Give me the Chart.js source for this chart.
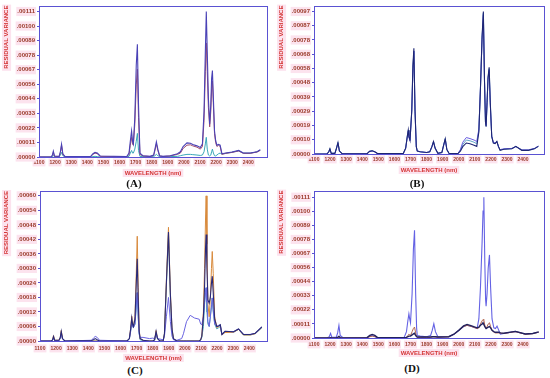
<!DOCTYPE html>
<html><head><meta charset="utf-8">
<script src="https://cdn.jsdelivr.net/npm/chart.js@4/dist/chart.umd.min.js"></script>
<style>
html,body{margin:0;padding:0;background:#fff;}
body{width:550px;height:378px;position:relative;overflow:hidden;}
canvas{position:absolute;}
.lab{position:absolute;font:bold 11px "Liberation Serif",serif;color:#111;transform:translateX(-50%);line-height:12px;}
</style></head><body>
<canvas id="cA" width="275" height="177" style="left:0;top:0"></canvas>
<canvas id="cB" width="275" height="174" style="left:275px;top:0"></canvas>
<canvas id="cC" width="275" height="177" style="left:0;top:185px"></canvas>
<canvas id="cD" width="275" height="172" style="left:275px;top:185px"></canvas>
<div class="lab" style="left:134px;top:177px">(A)</div>
<div class="lab" style="left:417px;top:177px">(B)</div>
<div class="lab" style="left:135px;top:364px">(C)</div>
<div class="lab" style="left:412px;top:362px">(D)</div>
<script>
// ---- shared axis text ----
const xTickValues = [1100,1200,1300,1400,1500,1600,1700,1800,1900,2000,2100,2200,2300,2400];
const xTickLabels = ['1100','1200','1300','1400','1500','1600','1700','1800','1900','2000','2100','2200','2300','2400'];
const xTitle = 'WAVELENGTH (nm)';
const yTitle = 'RESIDUAL VARIANCE';

// ---- panel A ----
const yTicksA = [0,11.1e-5,22.2e-5,33.3e-5,44.4e-5,55.5e-5,66.6e-5,77.7e-5,88.8e-5,99.9e-5,111e-5];
const yLabelsA = ['.00000','.00011','.00022','.00033','.00044','.00056','.00067','.00078','.00089','.00100','.00111'];
const wavelengthA = [1100,1175,1183,1189,1196,1225,1233,1240,1248,1262,1420,1435,1448,1462,1480,1645,1659,1667,1675,1681,1686,1695,1704,1711,1718,1727,1745,1790,1812,1820,1829,1838,1849,1870,1915,1960,1978,1995,2019,2040,2055,2081,2102,2115,2125,2133,2139,2145,2152,2160,2167,2172,2177,2183,2190,2197,2205,2215,2225,2236,2260,2299,2340,2369,2412,2454,2474];
const seriesA1 = [0,0,1.5e-5,4.5e-5,0.8e-5,0.5e-5,4e-5,9.8e-5,2.5e-5,0.3e-5,0.3e-5,2.5e-5,3.5e-5,3e-5,0.8e-5,0.3e-5,3e-5,12e-5,19.9e-5,12e-5,10e-5,30e-5,70e-5,86e-5,40e-5,3e-5,1e-5,0.5e-5,1.5e-5,6e-5,11.6e-5,6e-5,1e-5,0.5e-5,1e-5,2.5e-5,4e-5,8e-5,10.8e-5,10.5e-5,9.5e-5,8.5e-5,7.3e-5,10e-5,35e-5,80e-5,111e-5,80e-5,45e-5,25e-5,40e-5,60e-5,66e-5,45e-5,20e-5,12.6e-5,9e-5,9.6e-5,9e-5,2.5e-5,3e-5,3.8e-5,5e-5,3e-5,3e-5,4e-5,5.5e-5];
const seriesA2 = [0,0,1e-5,3.5e-5,0.5e-5,0.4e-5,3.5e-5,9e-5,2e-5,0.2e-5,0.2e-5,2e-5,3e-5,2.5e-5,0.5e-5,0.2e-5,2e-5,9e-5,15e-5,10e-5,9e-5,25e-5,55e-5,67e-5,30e-5,2e-5,0.8e-5,0.4e-5,1.2e-5,5e-5,10e-5,5e-5,0.8e-5,0.4e-5,0.8e-5,2e-5,3e-5,6.5e-5,9e-5,9.3e-5,8.5e-5,7.5e-5,6e-5,8e-5,28e-5,65e-5,87e-5,65e-5,38e-5,23e-5,35e-5,52e-5,58e-5,40e-5,18e-5,11e-5,8e-5,9e-5,8e-5,2e-5,2.8e-5,3.5e-5,4.6e-5,2.8e-5,2.8e-5,3.8e-5,5e-5];
const seriesA3 = [0,0,0.3e-5,1e-5,0.2e-5,0.2e-5,1.5e-5,3.5e-5,1e-5,0,0,0.3e-5,0.5e-5,0.3e-5,0,0,0.5e-5,3e-5,5e-5,3e-5,3e-5,6e-5,12e-5,18e-5,5e-5,0.5e-5,0.3e-5,0.2e-5,0.3e-5,1e-5,2e-5,1e-5,0.3e-5,0.2e-5,0.3e-5,0.5e-5,1e-5,1.5e-5,2e-5,2e-5,1.8e-5,1.5e-5,1.2e-5,1.5e-5,4e-5,10e-5,15e-5,6e-5,1.5e-5,0.8e-5,1.5e-5,4e-5,6e-5,3e-5,1e-5,0.8e-5,1.5e-5,2.5e-5,3e-5,2.2e-5,2.8e-5,3.6e-5,4.8e-5,2.9e-5,2.9e-5,3.9e-5,5.3e-5];

// ---- panel B ----
const yTicksB = [0,9.7e-5,19.4e-5,29.1e-5,38.8e-5,48.5e-5,58.2e-5,67.9e-5,77.6e-5,87.3e-5,97e-5];
const yLabelsB = ['.00000','.00010','.00019','.00029','.00039','.00048','.00058','.00068','.00078','.00087','.00097'];
const wavelengthB = [1100,1180,1192,1199,1207,1230,1240,1249,1258,1275,1430,1445,1462,1478,1495,1655,1670,1680,1686,1690,1697,1708,1715,1721,1728,1736,1742,1760,1800,1820,1833,1843,1853,1870,1895,1906,1916,1926,1940,1995,2010,2025,2047,2070,2095,2112,2125,2135,2145,2153,2160,2166,2170,2176,2182,2189,2196,2205,2215,2226,2237,2247,2257,2280,2330,2355,2392,2433,2470,2495];
const seriesB1 = [0,0,1.5e-5,3.6e-5,0.4e-5,0.4e-5,4e-5,7.8e-5,2e-5,0.2e-5,0.2e-5,1.8e-5,2.2e-5,1.5e-5,0.3e-5,0.3e-5,4e-5,12e-5,16.3e-5,12e-5,9.2e-5,30e-5,60e-5,72e-5,30e-5,5e-5,2e-5,1.5e-5,1e-5,1.5e-5,5e-5,8.5e-5,4e-5,0.5e-5,1e-5,6e-5,10.3e-5,3e-5,0.3e-5,0.3e-5,2e-5,5e-5,7.5e-5,7e-5,6e-5,5.2e-5,15e-5,45e-5,80e-5,97e-5,50e-5,22e-5,18.6e-5,35e-5,52e-5,59e-5,35e-5,12e-5,7.4e-5,7e-5,8.5e-5,5e-5,2.5e-5,3.2e-5,3.6e-5,5.2e-5,2.5e-5,2.5e-5,3.5e-5,5.2e-5];
const seriesB2 = [0,0,1.4e-5,3.4e-5,0.4e-5,0.4e-5,3.8e-5,7.5e-5,2e-5,0.2e-5,0.2e-5,1.6e-5,2e-5,1.4e-5,0.3e-5,0.3e-5,3.8e-5,11.5e-5,15.8e-5,11.5e-5,9e-5,29e-5,58e-5,70e-5,29e-5,5e-5,2e-5,1.5e-5,1e-5,1.5e-5,4.8e-5,8.2e-5,3.8e-5,0.5e-5,1e-5,5.8e-5,10e-5,3e-5,0.3e-5,0.3e-5,3e-5,8e-5,11.2e-5,10.5e-5,9.5e-5,8.5e-5,17e-5,45e-5,78e-5,95e-5,50e-5,23e-5,19.5e-5,35e-5,51e-5,57e-5,34e-5,12e-5,8e-5,7.5e-5,8.5e-5,5e-5,3e-5,3.5e-5,3.8e-5,5e-5,2.8e-5,2.8e-5,3.8e-5,5.4e-5];
const seriesB3 = [0,0,1.6e-5,3.8e-5,0.5e-5,0.5e-5,4.2e-5,8e-5,2.2e-5,0.2e-5,0.2e-5,1.8e-5,2.3e-5,1.5e-5,0.3e-5,0.3e-5,4e-5,12e-5,16e-5,12e-5,9.5e-5,30e-5,59e-5,70e-5,30e-5,5e-5,2e-5,1.5e-5,1e-5,1.5e-5,5e-5,8.6e-5,4e-5,0.5e-5,1e-5,6e-5,10.5e-5,3e-5,0.3e-5,0.3e-5,2.5e-5,6.5e-5,9.5e-5,9e-5,8e-5,7e-5,16e-5,45e-5,79e-5,96e-5,50e-5,22e-5,19e-5,35e-5,52e-5,58e-5,35e-5,12e-5,7.6e-5,7.2e-5,8.7e-5,5e-5,2.6e-5,3.3e-5,3.6e-5,5.1e-5,2.6e-5,2.6e-5,3.6e-5,5.3e-5];

// ---- panel C ----
const yTicksC = [0,6e-5,12e-5,18e-5,24e-5,30e-5,36e-5,42e-5,48e-5,54e-5,60e-5];
const yLabelsC = ['.00000','.00006','.00012','.00018','.00024','.00030','.00036','.00042','.00048','.00054','.00060'];
const wavelengthC = [1100,1170,1178,1184,1191,1218,1226,1232,1240,1255,1420,1432,1443,1455,1470,1640,1655,1663,1670,1675,1680,1690,1698,1704,1710,1716,1722,1740,1780,1800,1812,1821,1830,1845,1865,1873,1885,1898,1910,1920,1929,1950,1980,1991,2010,2033,2060,2089,2098,2105,2115,2122,2128,2132,2137,2143,2151,2158,2165,2170,2176,2185,2198,2210,2220,2230,2249,2302,2333,2364,2406,2437,2478];
const seriesC1 = [0,0,0.5e-5,1.9e-5,0.3e-5,0.3e-5,1.5e-5,4e-5,1e-5,0,0.2e-5,0.5e-5,1e-5,0.5e-5,0,0,1e-5,5e-5,9.5e-5,7e-5,6e-5,9e-5,24e-5,34e-5,18e-5,4e-5,1e-5,0.3e-5,0,0,0.5e-5,4e-5,1e-5,0,0,3e-5,24e-5,45e-5,19e-5,5e-5,1e-5,0,0,0,0,0,0,0,0.5e-5,2e-5,10e-5,22e-5,38e-5,44e-5,30e-5,17e-5,15.7e-5,18e-5,24e-5,26.8e-5,20e-5,9e-5,6e-5,6.2e-5,6.7e-5,2.7e-5,4e-5,3.8e-5,5e-5,2.7e-5,2.7e-5,3.2e-5,5.8e-5];
const seriesC2 = [0,0,0.3e-5,1.2e-5,0.2e-5,0.2e-5,1e-5,3e-5,0.8e-5,0,0.3e-5,1.2e-5,1.9e-5,1.5e-5,0.3e-5,0,0.8e-5,4e-5,8e-5,6e-5,5.5e-5,7e-5,15e-5,20e-5,10e-5,3e-5,1.5e-5,1.5e-5,1e-5,1.2e-5,1e-5,3e-5,1e-5,0.8e-5,0.5e-5,2e-5,10e-5,18e-5,8e-5,2e-5,0.5e-5,0.3e-5,1e-5,3e-5,8e-5,10.6e-5,9.5e-5,9e-5,7e-5,6.7e-5,10e-5,16e-5,20e-5,22e-5,16e-5,8e-5,6e-5,10e-5,14e-5,17.8e-5,13e-5,7e-5,6e-5,6.5e-5,6.7e-5,2.7e-5,4e-5,3.8e-5,5e-5,2.7e-5,2.7e-5,3.2e-5,5.8e-5];
const seriesC3 = [0,0,0.5e-5,2.2e-5,0.3e-5,0.3e-5,1.5e-5,4.3e-5,1e-5,0,0,0,0,0,0,0,1e-5,5e-5,10.2e-5,7e-5,6.1e-5,10e-5,28e-5,43.3e-5,22e-5,5e-5,1e-5,0.3e-5,0,0,0.5e-5,4.3e-5,1e-5,0,0,3e-5,25e-5,47e-5,20e-5,5e-5,1e-5,0,0,0,0,0,0,0,0.5e-5,2e-5,12e-5,30e-5,50e-5,60e-5,40e-5,15e-5,10e-5,18e-5,30e-5,37e-5,28e-5,10e-5,5.5e-5,6e-5,6.5e-5,2.5e-5,3.5e-5,3.6e-5,4.8e-5,2.5e-5,2.5e-5,3e-5,5.6e-5];
const seriesC4 = [0,0,0.3e-5,1.5e-5,0.2e-5,0.2e-5,1.2e-5,3.5e-5,0.8e-5,0,0,0,0,0,0,0,0.8e-5,4e-5,8e-5,6e-5,5.5e-5,7e-5,14e-5,20e-5,10e-5,3e-5,0.5e-5,0.2e-5,0,0,0.4e-5,3.5e-5,0.8e-5,0,0,3e-5,23e-5,44e-5,18e-5,4e-5,0.8e-5,0,0,0,0,0,0,0,0.4e-5,1.5e-5,6e-5,15e-5,20e-5,22e-5,12e-5,7e-5,6e-5,10e-5,15e-5,17.8e-5,12e-5,7e-5,5e-5,5.5e-5,6e-5,2.5e-5,3.8e-5,3.6e-5,4.8e-5,2.5e-5,2.5e-5,3e-5,5.5e-5];

// ---- panel D ----
const yTicksD = [0,11.1e-5,22.2e-5,33.3e-5,44.4e-5,55.5e-5,66.6e-5,77.7e-5,88.8e-5,99.9e-5,111e-5];
const yLabelsD = ['.00000','.00011','.00022','.00033','.00044','.00056','.00067','.00078','.00089','.00100','.00111'];
const wavelengthD = [1100,1180,1195,1203,1211,1238,1247,1255,1263,1280,1430,1447,1462,1478,1495,1660,1675,1684,1690,1695,1700,1710,1718,1725,1732,1738,1742,1760,1800,1825,1835,1845,1855,1870,1938,1970,2000,2030,2052,2080,2114,2125,2135,2145,2151,2156,2162,2167,2170,2176,2183,2191,2198,2207,2218,2228,2238,2249,2259,2280,2352,2414,2460,2497];
const seriesD1 = [0,0,1e-5,3.6e-5,0.5e-5,0.5e-5,4e-5,9.9e-5,2e-5,0.2e-5,0.3e-5,1.5e-5,2e-5,1.2e-5,0.3e-5,0.3e-5,5e-5,14e-5,19e-5,15e-5,12e-5,35e-5,70e-5,85e-5,35e-5,8e-5,2e-5,1.5e-5,1e-5,2e-5,6e-5,11.2e-5,5e-5,1e-5,1e-5,3e-5,6e-5,9e-5,10e-5,9e-5,7.5e-5,15e-5,40e-5,75e-5,100e-5,111e-5,60e-5,30e-5,25e-5,35e-5,55e-5,65.5e-5,40e-5,15e-5,8e-5,7.5e-5,9.4e-5,6e-5,3e-5,3.5e-5,5.2e-5,3e-5,3.5e-5,4.5e-5];
const seriesD2 = [0,0,0,0.3e-5,0,0,0.5e-5,1.3e-5,0.3e-5,0,0.3e-5,2e-5,2.8e-5,2e-5,0.3e-5,0.2e-5,0.5e-5,1e-5,1.5e-5,1.5e-5,1.5e-5,2.5e-5,3.2e-5,3.7e-5,2e-5,1e-5,0.8e-5,0.8e-5,0.8e-5,0.8e-5,1e-5,1e-5,1e-5,0.8e-5,1e-5,3e-5,6e-5,9.5e-5,10.7e-5,9.5e-5,8e-5,8.5e-5,10e-5,11e-5,12e-5,12e-5,9e-5,8e-5,7.5e-5,8e-5,8.5e-5,9e-5,8e-5,6e-5,5e-5,4.5e-5,4.5e-5,4.5e-5,4e-5,3.8e-5,5.2e-5,3.2e-5,3.6e-5,4.8e-5];
const seriesD3 = [0,0,0,0.2e-5,0,0,0.3e-5,0.8e-5,0.2e-5,0,0.2e-5,1e-5,1.5e-5,1e-5,0.2e-5,0.2e-5,0.5e-5,2e-5,3e-5,2.5e-5,2e-5,5e-5,7.5e-5,8.6e-5,4e-5,1e-5,0.5e-5,0.5e-5,0.5e-5,0.5e-5,0.8e-5,1e-5,0.8e-5,0.5e-5,1e-5,3e-5,6e-5,9e-5,10e-5,9e-5,7.5e-5,8e-5,11e-5,13.5e-5,14.6e-5,14e-5,10e-5,8e-5,7.5e-5,9e-5,11e-5,12e-5,9e-5,6e-5,4.5e-5,4e-5,4e-5,4e-5,3.8e-5,3.6e-5,5e-5,3e-5,3.4e-5,4.6e-5];

// ---- styling ----
const FRAME = '#5a52d2';
const PINK = '#fce3ee';
const TICKCOL = '#9a3a2a';
const TITLECOL = '#d43535';
const FONT = 'Liberation Sans';

const frameBg = {
  id: 'frameBg',
  beforeDraw(chart) {
    const ctx = chart.ctx, xs = chart.scales.x, ys = chart.scales.y;
    ctx.save();
    ctx.fillStyle = PINK;
    ctx.font = 'bold 6px "' + FONT + '"';
    const tw = ctx.measureText(xTitle).width;
    const cx = (xs.left + xs.right) / 2, cy = xs.bottom - 3.6;
    ctx.fillRect(cx - tw / 2 - 2, cy - 4.5, tw + 4, 9);
    const yw = ctx.measureText(yTitle).width;
    const yx = ys.left + 3 + 3.6;
    ctx.fillRect(yx - 4.5, ys.top - 1, 9, yw + 3);
    ctx.restore();
  },
  afterDraw(chart) {
    const a = chart.chartArea, ctx = chart.ctx;
    ctx.save();
    ctx.strokeStyle = FRAME;
    ctx.lineWidth = 1;
    ctx.strokeRect(Math.round(a.left) + 0.5, Math.round(a.top) + 0.5, Math.round(a.right - a.left), Math.round(a.bottom - a.top));
    ctx.restore();
  }
};

function makePanel(p) {
  const datasets = p.series.map(s => ({
    data: p.grid.map((x, i) => ({x: x, y: s.values[i]})),
    borderColor: s.color, borderWidth: s.width, pointRadius: 0, tension: 0, fill: false
  }));
  new Chart(document.getElementById(p.id), {
    type: 'line',
    data: {datasets},
    plugins: [frameBg],
    options: {
      responsive: false, animation: false, devicePixelRatio: 1,
      layout: {padding: {left: 0, top: p.T, right: 275 - p.R, bottom: 0}},
      plugins: {legend: {display: false}, tooltip: {enabled: false}},
      scales: {
        x: {
          type: 'linear', min: 1100, max: p.xMax,
          afterBuildTicks: s => { s.ticks = xTickValues.map(v => ({value: v})); },
          afterFit: s => { s.height = p.H - p.B; },
          grid: {display: false, drawTicks: false, tickLength: 0}, border: {display: false},
          ticks: {autoSkip: false, maxRotation: 0, padding: p.lp, color: TICKCOL,
            font: {family: FONT, size: 5, weight: 'bold'},
            showLabelBackdrop: true, backdropColor: PINK, backdropPadding: 1,
            callback: (v, i) => xTickLabels[i]},
          title: {display: true, text: xTitle, color: TITLECOL, padding: 0,
            font: {family: FONT, size: 6, weight: 'bold', lineHeight: 1.2}}
        },
        y: {
          min: 0, max: p.yMax,
          afterBuildTicks: s => { s.ticks = p.yTicks.map(v => ({value: v})); },
          afterFit: s => { s.width = p.L; },
          grid: {display: true, drawOnChartArea: false, drawTicks: true, tickLength: 2, color: FRAME},
          border: {display: false},
          ticks: {padding: 2, color: TICKCOL, font: {family: FONT, size: 6, weight: 'bold'},
            showLabelBackdrop: true, backdropColor: PINK, backdropPadding: 1,
            callback: (v, i) => p.yLabels[i]},
          title: {display: true, text: yTitle, color: TITLECOL, align: 'end', padding: {top: 3, bottom: 0},
            font: {family: FONT, size: 6, weight: 'bold', lineHeight: 1.2}}
        }
      }
    }
  });
}

makePanel({id: 'cA', grid: wavelengthA, xMax: 2516, yMax: 115.5e-5, yTicks: yTicksA, yLabels: yLabelsA,
  L: 39, T: 4, R: 267, B: 157, H: 177, lp: 2.4,
  series: [{values: seriesA1, color: '#4a42b6', width: 1.1}, {values: seriesA2, color: '#a04c6c', width: 1}, {values: seriesA3, color: '#3aa7b8', width: 1}]});
makePanel({id: 'cB', grid: wavelengthB, xMax: 2530, yMax: 101e-5, yTicks: yTicksB, yLabels: yLabelsB,
  L: 39, T: 4, R: 269, B: 154, H: 174, lp: 2.4,
  series: [{values: seriesB1, color: '#1e2674', width: 1.1}, {values: seriesB2, color: '#6a5ee0', width: 1}, {values: seriesB3, color: '#62a8c8', width: 1}]});
makePanel({id: 'cC', grid: wavelengthC, xMax: 2510, yMax: 62e-5, yTicks: yTicksC, yLabels: yLabelsC,
  L: 40, T: 6, R: 267, B: 156, H: 177, lp: 4.4,
  series: [{values: seriesC1, color: '#2a2a78', width: 1.1}, {values: seriesC2, color: '#6a64e0', width: 1}, {values: seriesC3, color: '#d88a3c', width: 1}, {values: seriesC4, color: '#48a8b8', width: 1}]});
makePanel({id: 'cD', grid: wavelengthD, xMax: 2530, yMax: 116.2e-5, yTicks: yTicksD, yLabels: yLabelsD,
  L: 39, T: 5, R: 269, B: 153, H: 172, lp: 3.4,
  series: [{values: seriesD2, color: '#22225e', width: 1.4}, {values: seriesD3, color: '#b0644c', width: 1}, {values: seriesD1, color: '#6462e4', width: 1.1}]});
</script>
</body></html>
